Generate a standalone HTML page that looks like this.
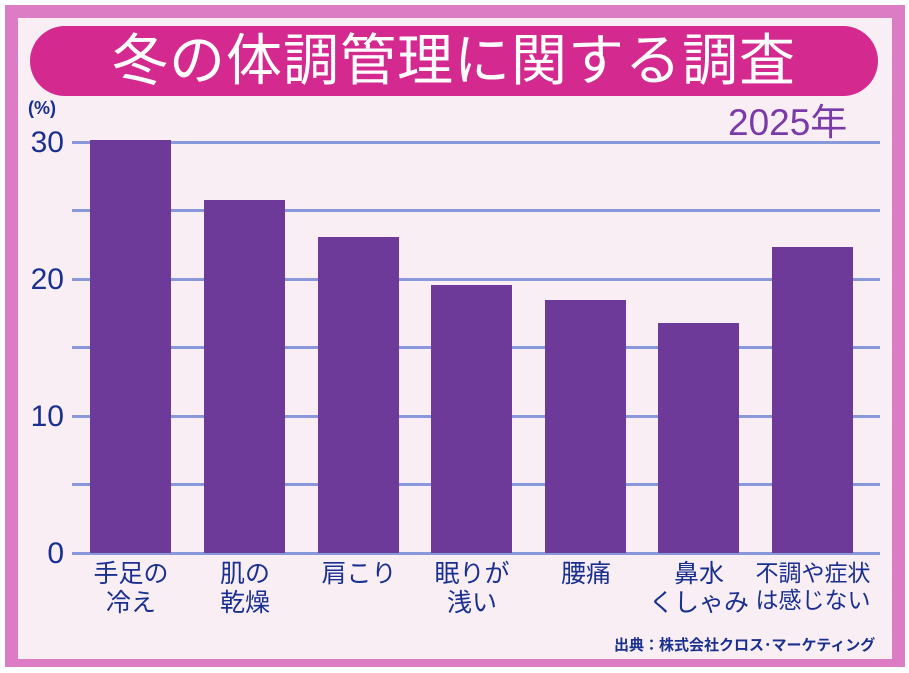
<!DOCTYPE html>
<html><head><meta charset="utf-8"><style>
body{margin:0;width:909px;height:673px;background:#fff;position:relative;overflow:hidden;font-family:"Liberation Sans","Noto Sans CJK JP",sans-serif}
.o{position:absolute;left:5px;top:5px;width:900px;height:662px;background:#dc7cc4}
.i{position:absolute;left:18px;top:18px;width:874px;height:641px;background:#f8eef4}
.t{position:absolute;left:30px;top:26px;width:848px;height:70px;border-radius:35px;background:#d42a90;color:#fff;font-size:56px;line-height:70px;text-align:center;letter-spacing:1px}
.g{position:absolute;left:72px;width:808px;height:3px;background:#8898da}
.b{position:absolute;width:81px;background:#6e3a9a}
.y{position:absolute;width:62px;left:2px;text-align:right;color:#1a3090;font-size:30px;line-height:30px}
.c{position:absolute;top:560px;width:120px;text-align:center;color:#1a3090;font-size:25px;line-height:29px}
</style></head><body>
<div class="o"></div><div class="i"></div>
<div class="t">冬の体調管理に関する調査</div>
<div style="position:absolute;left:28px;top:98px;color:#1a3090;font-size:18px;font-weight:bold">(%)</div>
<div style="position:absolute;left:728px;top:92px;color:#7a3aa8;font-size:37px">2025年</div>
<div class="g" style="top:141px"></div><div class="g" style="top:209px"></div><div class="g" style="top:278px"></div><div class="g" style="top:346px"></div><div class="g" style="top:415px"></div><div class="g" style="top:483px"></div><div class="g" style="top:552px"></div>
<div class="y" style="top:128px">30</div><div class="y" style="top:265px">20</div><div class="y" style="top:402px">10</div><div class="y" style="top:539px">0</div>
<div class="b" style="left:90px;top:140px;height:413px"></div>
<div class="b" style="left:204px;top:200px;height:353px"></div>
<div class="b" style="left:318px;top:237px;height:316px"></div>
<div class="b" style="left:431px;top:285px;height:268px"></div>
<div class="b" style="left:545px;top:300px;height:253px"></div>
<div class="b" style="left:658px;top:323px;height:230px"></div>
<div class="b" style="left:772px;top:247px;height:306px"></div>
<div class="c" style="left:71px">手足の<br>冷え</div>
<div class="c" style="left:185px">肌の<br>乾燥</div>
<div class="c" style="left:299px">肩こり</div>
<div class="c" style="left:412px">眠りが<br>浅い</div>
<div class="c" style="left:526px">腰痛</div>
<div class="c" style="left:639px">鼻水<br>くしゃみ</div>
<div class="c" style="left:748px;width:130px;font-size:23px;line-height:27px">不調や症状<br>は感じない</div>
<div style="position:absolute;left:614px;top:634px;color:#1a3090;font-size:15px;font-weight:bold">出典：株式会社クロス･マーケティング</div>
</body></html>
